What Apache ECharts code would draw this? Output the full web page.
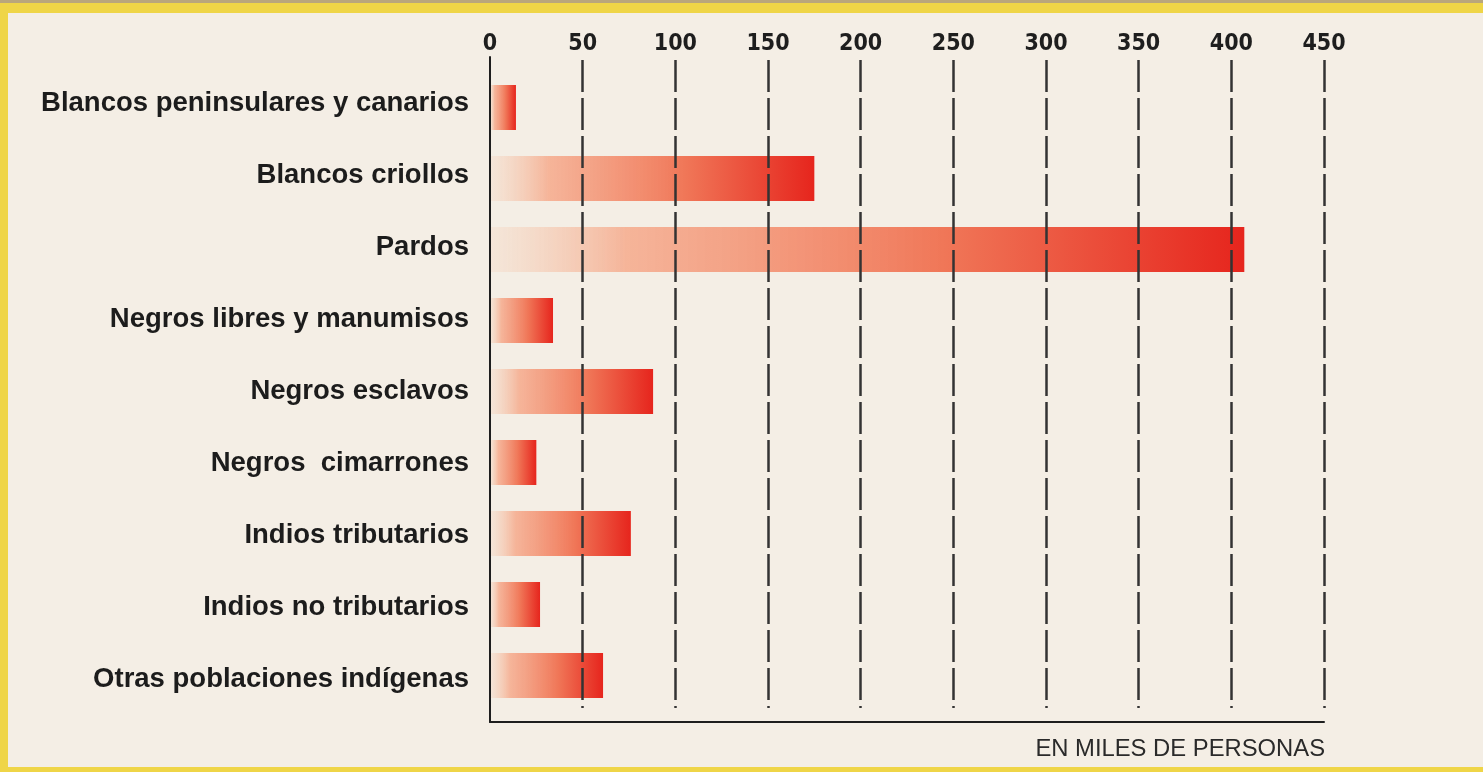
<!DOCTYPE html>
<html>
<head>
<meta charset="utf-8">
<script src="https://cdn.jsdelivr.net/npm/echarts@6/dist/echarts.min.js"></script>
<style>
  html, body { margin: 0; padding: 0; }
  #frame { position: relative; width: 1483px; height: 772px; background: #efd547; overflow: hidden; }
  #topstrip { position: absolute; left: 0; top: 0; width: 1483px; height: 3px; background: #b9a67c; }
  #paper { position: absolute; left: 8px; top: 13px; right: 0; bottom: 5px; background: #f4eee5; }
  #chart { position: absolute; left: 0; top: 0; width: 1483px; height: 772px; }
</style>
</head>
<body>
<div id="frame">
  <div id="topstrip"></div>
  <div id="paper"></div>
  <div id="chart"></div>
</div>
<script>
// ---- data ----
const categories = [
  'Blancos peninsulares y canarios',
  'Blancos criollos',
  'Pardos',
  'Negros libres y manumisos',
  'Negros esclavos',
  'Negros  cimarrones',
  'Indios tributarios',
  'Indios no tributarios',
  'Otras poblaciones indígenas'
];
const values = [14, 175, 407, 34, 88, 25, 76, 27, 61];   // miles de personas
const axisMin = 0;
const axisMax = 450;
const axisStep = 50;
const unitLabel = 'EN MILES DE PERSONAS';

// ---- chart ----
const chart = echarts.init(document.getElementById('chart'), null, { renderer: 'canvas' });
const barGradient = new echarts.graphic.LinearGradient(0, 0, 1, 0, [
  { offset: 0, color: 'rgba(246,200,172,0.2)' },
  { offset: 0.18, color: 'rgba(245,170,140,0.85)' },
  { offset: 0.6, color: '#f07758' },
  { offset: 1, color: '#e6251d' }
]);
const L = 490, R = 159;

chart.setOption({
  backgroundColor: 'transparent',
  animation: false,
  title: {
    text: unitLabel,
    right: 153,
    top: 732,
    textStyle: { fontFamily: 'Liberation Sans, Arial, sans-serif', fontSize: 23.8, fontWeight: 'normal', color: '#2a2a2a' }
  },
  grid: [
    { left: L, right: R, top: 57, bottom: 50 },     // axis frame
    { left: L, right: R, top: 72, bottom: 61 },     // bars
    { left: L, right: R, top: 57, bottom: 64 },     // tick labels + dashed grid
    { left: L, right: R, top: 67.5, bottom: 56.5 }  // category labels
  ],
  xAxis: [
    {
      gridIndex: 0, type: 'value', position: 'bottom', min: axisMin, max: axisMax,
      z: 11,
      axisLine: { show: true, lineStyle: { color: '#1e1e1e', width: 2 } },
      axisTick: { show: false }, axisLabel: { show: false }, splitLine: { show: false }
    },
    {
      gridIndex: 1, type: 'value', min: axisMin, max: axisMax, show: false
    },
    {
      gridIndex: 2, type: 'value', position: 'top', min: axisMin, max: axisMax, interval: axisStep,
      z: 10,
      axisLine: { show: false }, axisTick: { show: false },
      axisLabel: { margin: 1, fontFamily: 'Liberation Sans Narrow, DejaVu Sans Condensed, sans-serif', fontWeight: 'bold', fontSize: 23, color: '#1e1e1e' },
      splitLine: { show: true, showMinLine: false, lineStyle: { color: '#333', width: 2.5, type: [32, 6], dashOffset: 35 } }
    },
    {
      gridIndex: 3, type: 'value', min: axisMin, max: axisMax, show: false
    }
  ],
  yAxis: [
    {
      gridIndex: 0, type: 'value', min: 0, max: 1,
      z: 11,
      axisLine: { show: true, onZero: false, lineStyle: { color: '#1e1e1e', width: 2 } },
      axisTick: { show: false }, axisLabel: { show: false }, splitLine: { show: false }
    },
    {
      gridIndex: 1, type: 'category', inverse: true, data: categories,
      axisLine: { show: false }, axisTick: { show: false }, axisLabel: { show: false }
    },
    {
      gridIndex: 2, type: 'value', min: 0, max: 1, show: false
    },
    {
      gridIndex: 3, type: 'category', inverse: true, data: categories,
      axisLine: { show: false }, axisTick: { show: false },
      axisLabel: { margin: 21, fontFamily: 'Liberation Sans, Arial, sans-serif', fontWeight: 'bold', fontSize: 27.5, color: '#1c1c1c' }
    }
  ],
  series: [
    {
      type: 'bar',
      xAxisIndex: 1, yAxisIndex: 1,
      data: values,
      barWidth: 45,
      z: 2,
      itemStyle: { color: barGradient }
    }
  ]
});
</script>
</body>
</html>
